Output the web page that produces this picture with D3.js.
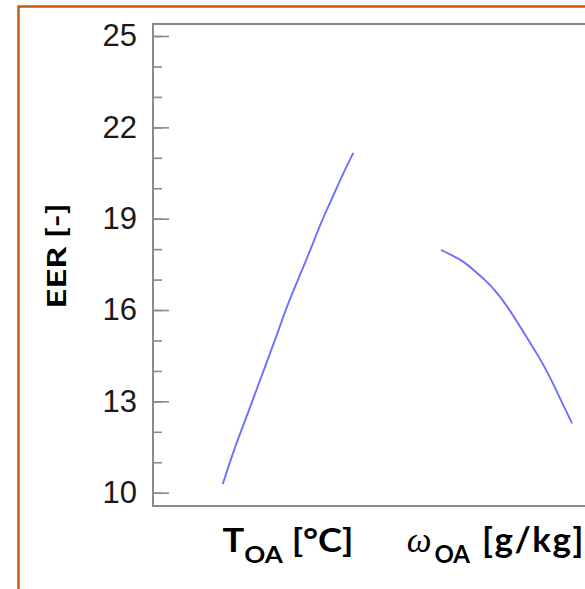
<!DOCTYPE html>
<html>
<head>
<meta charset="utf-8">
<script src="https://cdn.jsdelivr.net/npm/d3@7"></script>
<style>
  html, body { margin: 0; padding: 0; background: #fff; overflow: hidden; }
  svg { display: block; }
</style>
</head>
<body>
<svg id="chart" width="585" height="589"></svg>
<script>
// EER response to outdoor-air temperature and humidity ratio
const yMajorTicks = [10, 13, 16, 19, 22, 25];
const yMinorTicks = d3.range(10, 26);
const groups = ["T", "w"];

// outdoor-air dry-bulb temperature [°C] and EER
const tOA  = [24, 25, 26, 27, 28, 29, 30, 31, 32, 33, 34, 35, 36];
const eerT = [10.31, 11.40, 12.33, 13.29, 14.25, 15.21, 16.22, 17.06, 17.91, 18.84, 19.61, 20.42, 21.14];

// outdoor-air humidity ratio [g/kg] and EER
const wOA  = [8, 9, 10, 11, 12, 13, 14, 15, 16, 17, 18, 19, 20];
const eerW = [17.96, 17.79, 17.60, 17.30, 16.99, 16.62, 16.15, 15.59, 15.02, 14.45, 13.80, 13.04, 12.30];

const svg = d3.select("#chart");
const W = 585, H = 589;
const plot = { left: 153, top: 24, bottom: 506, right: 620 };
const axisColor = "#8a8a8a";
const lineColor = "#6e6eff";
const boldFont = "Lato, 'Open Sans', sans-serif";

svg.append("rect").attr("width", W).attr("height", H).attr("fill", "#fff");

// orange panel border
svg.append("rect")
  .attr("x", 18.5).attr("y", 6.5)
  .attr("width", 700).attr("height", 700)
  .attr("fill", "none")
  .attr("stroke", "#c55a11")
  .attr("stroke-width", 2.5);

const y = d3.scaleLinear().domain([10, 25]).range([492.7, 36]);
const xGroup = d3.scalePoint().domain(groups).range([288, 506.7]);
const halfSpan = 65;
const xT = d3.scaleLinear().domain(d3.extent(tOA))
  .range([xGroup("T") - halfSpan, xGroup("T") + halfSpan]);
const xW = d3.scaleLinear().domain(d3.extent(wOA))
  .range([xGroup("w") - halfSpan, xGroup("w") + halfSpan]);

// plot frame
svg.append("path")
  .attr("d", `M${plot.right},${plot.top}H${plot.left}V${plot.bottom}H${plot.right}`)
  .attr("fill", "none").attr("stroke", axisColor).attr("stroke-width", 2);

// minor ticks (every unit), pointing into the plot
svg.append("g")
  .attr("transform", `translate(${plot.left},0)`)
  .call(d3.axisLeft(y).tickValues(yMinorTicks).tickSizeInner(-9).tickSizeOuter(0).tickFormat(""))
  .call(g => g.select(".domain").remove())
  .call(g => g.selectAll("line").attr("stroke", axisColor).attr("stroke-width", 1.6));

// major ticks with labels
svg.append("g")
  .attr("transform", `translate(${plot.left},0)`)
  .call(d3.axisLeft(y).tickValues(yMajorTicks).tickSizeInner(-16).tickSizeOuter(0).tickPadding(16))
  .call(g => g.select(".domain").remove())
  .call(g => g.selectAll("line").attr("stroke", axisColor).attr("stroke-width", 1.6))
  .call(g => g.selectAll("text")
    .attr("fill", "#1a1a1a")
    .attr("font-family", "'Liberation Sans', Arial, sans-serif")
    .attr("font-size", 31));

// curves
const lineT = d3.line().x((d, i) => xT(tOA[i])).y(d => y(d)).curve(d3.curveBasis);
const lineW = d3.line().x((d, i) => xW(wOA[i])).y(d => y(d)).curve(d3.curveBasis);

[[eerT, lineT], [eerW, lineW]].forEach(([vals, gen]) => {
  svg.append("path").datum(vals)
    .attr("d", gen)
    .attr("fill", "none").attr("stroke", lineColor).attr("stroke-width", 1.9)
    .attr("stroke-linecap", "round");
});

// y-axis title
svg.append("text")
  .attr("transform", "translate(66,256) rotate(-90)")
  .attr("text-anchor", "middle")
  .attr("font-family", boldFont)
  .attr("font-weight", 700)
  .attr("font-size", 27)
  .attr("fill", "#000")
  .attr("textLength", 105)
  .attr("lengthAdjust", "spacingAndGlyphs")
  .text("EER [-]");

// x-axis group labels
const labelY = 552;
const tLabel = svg.append("text")
  .attr("x", xGroup("T")).attr("y", labelY)
  .attr("text-anchor", "middle")
  .attr("font-family", boldFont)
  .attr("font-weight", 700)
  .attr("fill", "#000")
  .attr("textLength", 131)
  .attr("lengthAdjust", "spacingAndGlyphs");
tLabel.append("tspan").attr("font-size", 32).text("T");
tLabel.append("tspan").attr("font-size", 23).attr("dy", 11).text("OA");
tLabel.append("tspan").attr("font-size", 32).attr("dy", -11).text(" [°C]");

const wLabel = svg.append("text")
  .attr("x", xGroup("w") - 100).attr("y", labelY)
  .attr("text-anchor", "start")
  .attr("fill", "#000");
wLabel.append("tspan")
  .attr("font-family", "'Liberation Serif', 'DejaVu Serif', serif")
  .attr("font-style", "italic")
  .attr("font-size", 35).text("ω");
wLabel.append("tspan")
  .attr("font-family", boldFont).attr("font-weight", 700)
  .attr("font-size", 24).attr("dy", 11).attr("dx", 3).text("OA");
wLabel.append("tspan")
  .attr("font-family", boldFont).attr("font-weight", 700)
  .attr("font-size", 35).attr("letter-spacing", 1.5)
  .attr("dy", -11).attr("dx", 2).text(" [g/kg]");
</script>
</body>
</html>
